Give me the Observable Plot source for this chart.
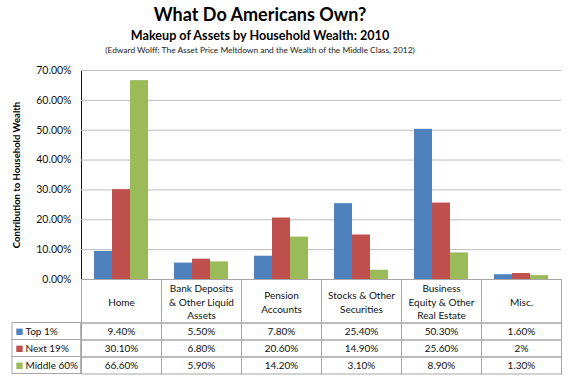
<!DOCTYPE html>
<html><head><meta charset="utf-8">
<script src="https://cdn.jsdelivr.net/npm/d3@7"></script>
<script src="https://cdn.jsdelivr.net/npm/@observablehq/plot@0.6"></script>
<style>
body{margin:0;background:#fff;font-family:Lato,"Open Sans",sans-serif;}
#wrap{width:570px;}
#head{position:relative;height:60px;}
.t{position:absolute;left:0;width:520px;text-align:center;color:#000;white-space:nowrap;}
#title{top:3px;font-size:18px;font-weight:bold;line-height:22px;}
#sub{top:28px;font-size:12.6px;font-weight:bold;line-height:16px;}
#cap{top:45px;font-size:8.4px;line-height:11px;color:#222;}
svg{display:block;}
</style></head><body>
<div id="wrap">
<div id="head">
<div class="t" id="title">What Do Americans Own?</div>
<div class="t" id="sub">Makeup of Assets by Household Wealth: 2010</div>
<div class="t" id="cap">(Edward Wolff: The Asset Price Meltdown and the Wealth of the Middle Class, 2012)</div>
</div>
<div id="chart"></div>
</div>
<script>
const categories = ["Home","Bank Deposits & Other Liquid Assets","Pension Accounts","Stocks & Other Securities","Business Equity & Other Real Estate","Misc."];
const headerLabels = ["Home","Bank Deposits\n& Other Liquid\nAssets","Pension\nAccounts","Stocks & Other\nSecurities","Business\nEquity & Other\nReal Estate","Misc."];
const series = ["Top 1%","Next 19%","Middle 60%"];
const colors = ["#4F81BD","#C0504D","#9BBB59"];
const top1 = [9.4,5.5,7.8,25.4,50.3,1.6];
const next19 = [30.1,6.8,20.6,14.9,25.6,2.0];
const middle60 = [66.6,5.9,14.2,3.1,8.9,1.3];
const top1Labels = ["9.40%","5.50%","7.80%","25.40%","50.30%","1.60%"];
const next19Labels = ["30.10%","6.80%","20.60%","14.90%","25.60%","2%"];
const middle60Labels = ["66.60%","5.90%","14.20%","3.10%","8.90%","1.30%"];
const yTicks = [0,10,20,30,40,50,60,70];
const yTickLabels = ["0.00%","10.00%","20.00%","30.00%","40.00%","50.00%","60.00%","70.00%"];
const yLabel = "Contribution to Household Wealth";

const values = [top1, next19, middle60];
const labels = [top1Labels, next19Labels, middle60Labels];
const rows = series.map((s, i) => categories.map((c, j) => ({series: s, category: c, value: values[i][j], label: labels[i][j]})));
const data = rows.flat();

const width = 570, height = 318, mt = 10, mb = 99, ml = 80, mr = 8;
const plotH = height - mt - mb;
const rowEdges = [0, 43.5, 60.5, 77.5, 94.5];
const grey = "#a6a6a6";
const first = [categories[0]];
const font = 10;

const marks = [
  Plot.gridY(yTicks, {stroke: "#bdbdbd", strokeOpacity: 1}),
  Plot.barY(data, {fx: "category", x: "series", y: "value", fill: "series"}),
  Plot.text(first, {fx: d => d, text: () => yLabel, frameAnchor: "left", textAnchor: "middle", lineAnchor: "middle", dx: -65, rotate: -90, fontWeight: "bold", fontSize: 9.5, fill: "#000"}),
  // table header
  Plot.text(categories, {fx: d => d, text: (d, i) => headerLabels[i], frameAnchor: "bottom", lineAnchor: "middle", dy: 22, lineHeight: 1.35, fontSize: font, fill: "#111"})
];
// table cell borders for each row
for (let k = 0; k < 4; k++) {
  marks.push(Plot.frame({stroke: grey, insetTop: plotH + rowEdges[k], insetBottom: -rowEdges[k + 1]}));
}
series.forEach((s, i) => {
  const top = rowEdges[i + 1], bottom = rowEdges[i + 2];
  const mid = (top + bottom) / 2 + 0.3;
  marks.push(
    Plot.text(rows[i], {fx: "category", text: "label", frameAnchor: "bottom", lineAnchor: "middle", dy: mid, fontSize: font, fill: "#111"}),
    Plot.barY(first, {fx: d => d, y1: () => 0, y2: () => 0, fill: "none", stroke: grey, insetLeft: -69, insetRight: (width - ml - mr) / categories.length, insetTop: top, insetBottom: -bottom}),
    Plot.dot(first, {fx: d => d, frameAnchor: "bottom-left", dx: -62, dy: mid, symbol: "square", r: 3.6, fill: colors[i], stroke: "none"}),
    Plot.text(first, {fx: d => d, text: () => s, frameAnchor: "bottom-left", textAnchor: "start", lineAnchor: "middle", dx: -56, dy: mid, fontSize: font, fill: "#111"})
  );
});

const chart = Plot.plot({
  width, height, marginTop: mt, marginBottom: mb, marginLeft: ml, marginRight: mr,
  style: {fontFamily: "Lato, 'Open Sans', sans-serif", fontSize: "10.5px", color: "#111", background: "#fff"},
  fx: {domain: categories, padding: 0, axis: null},
  x: {domain: series, paddingInner: 0, paddingOuter: 0.722, axis: null},
  y: {domain: [0, 70], ticks: yTicks, tickFormat: d => yTickLabels[yTicks.indexOf(d)], tickSize: 0, tickPadding: 10, label: null, line: true},
  color: {domain: series, range: colors},
  marks
});
document.getElementById("chart").appendChild(chart);
</script>
</body></html>
